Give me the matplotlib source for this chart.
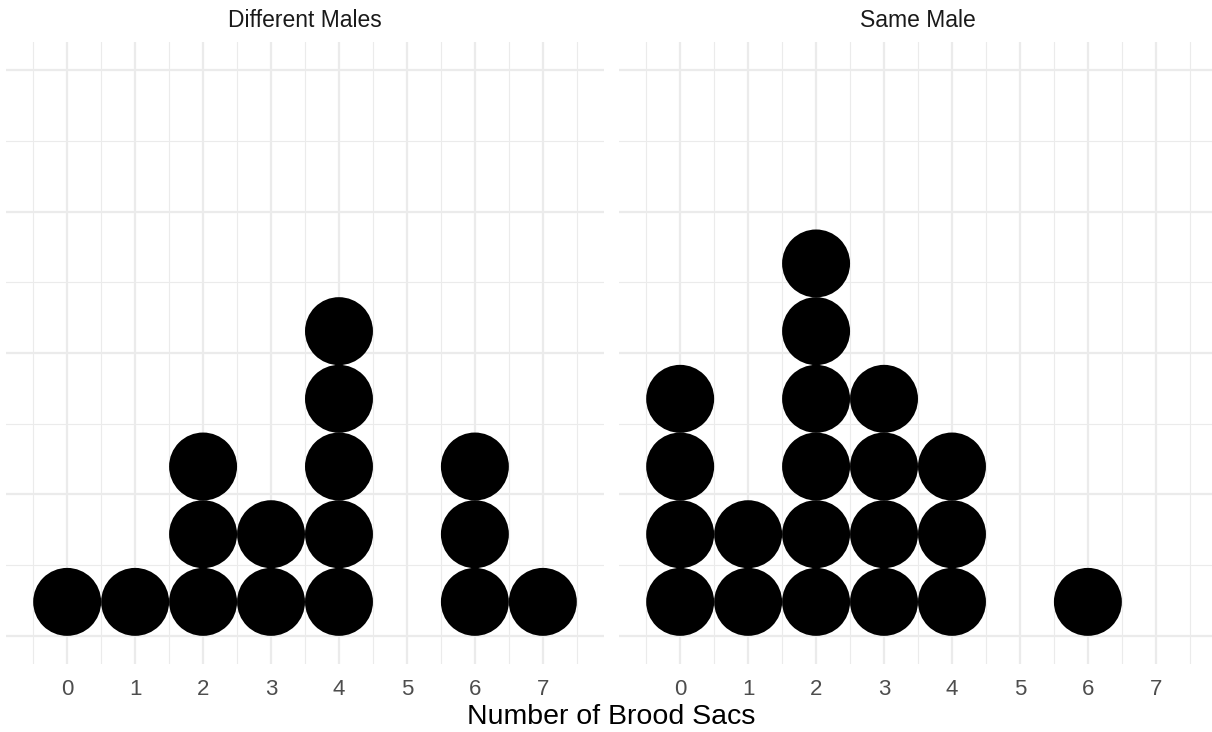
import numpy as np
import matplotlib.pyplot as plt

plt.rcParams['font.family'] = ['Liberation Sans', 'DejaVu Sans']

# counts of females per number of brood sacs, by mating treatment
sacs = [0, 1, 2, 3, 4, 5, 6, 7]
different_males = [1, 1, 3, 2, 5, 0, 3, 1]
same_male = [4, 2, 6, 4, 3, 0, 1, 0]
panels = ["Different Males", "Same Male"]

W, H = 1212, 732
fig = plt.figure(figsize=(W / 100, H / 100), dpi=100)

# panel boxes in pixels: left, right, top, bottom
boxes = [(6, 604, 42, 664), (619, 1217, 42, 664)]
xlim = (-0.9, 7.9)
ylim = (-0.05, 1.05)
step = 0.1197  # stack height of one dot in y units

grid_col = '#EBEBEB'

for (l, r, t, b), title, counts in zip(boxes, panels, [different_males, same_male]):
    ax = fig.add_axes([l / W, 1 - b / H, (r - l) / W, (b - t) / H])
    ax.set_xlim(*xlim)
    ax.set_ylim(*ylim)
    for s in ax.spines.values():
        s.set_visible(False)
    ax.set_xticks(sacs)
    ax.set_xticks(np.arange(-0.5, 8, 1), minor=True)
    ax.set_yticks([0, 0.25, 0.5, 0.75, 1.0])
    ax.set_yticks([0.125, 0.375, 0.625, 0.875], minor=True)
    ax.grid(True, which='major', color=grid_col, lw=1.6)
    ax.grid(True, which='minor', color=grid_col, lw=0.8)
    ax.set_axisbelow(True)
    ax.tick_params(which='both', length=0)
    ax.tick_params(axis='x', labelsize=16, labelcolor='#4D4D4D', pad=10.5)
    ax.set_yticklabels([])

    xs, ys = [], []
    for x, n in zip(sacs, counts):
        for k in range(n):
            xs.append(x)
            ys.append((k + 0.5) * step)
    # marker diameter ~ one x unit in pixels
    d_px = (r - l) / (xlim[1] - xlim[0])
    d_pt = d_px * 72 / 100
    ax.scatter(xs, ys, s=d_pt ** 2, color='black', edgecolors='none', zorder=3)

    fig.text(((l + r) / 2) / W, 1 - 20.5 / H, title, ha='center', va='center',
             fontsize=16.5, color='#1A1A1A')

fig.text(611.5 / W, 1 - 717.5 / H, "Number of Brood Sacs", ha='center', va='center',
         fontsize=20.5, color='black')

fig.savefig('out.png', dpi=100)
